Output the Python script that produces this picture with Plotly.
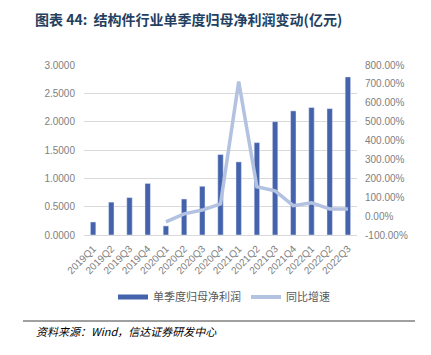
import plotly.graph_objects as go

quarters = ["2019Q1", "2019Q2", "2019Q3", "2019Q4", "2020Q1", "2020Q2", "2020Q3", "2020Q4",
            "2021Q1", "2021Q2", "2021Q3", "2021Q4", "2022Q1", "2022Q2", "2022Q3"]
profit = [0.23, 0.58, 0.66, 0.91, 0.16, 0.635, 0.86, 1.42,
          1.29, 1.63, 2.00, 2.19, 2.25, 2.23, 2.79]
yoy = [None, None, None, None, -30, 12, 32, 64,
       712, 155, 134, 55, 71, 38, 38]
left_ticks = [0, 0.5, 1.0, 1.5, 2.0, 2.5, 3.0]
right_ticks = [-100, 0, 100, 200, 300, 400, 500, 600, 700, 800]

BAR = "#4563AC"
LINE = "#B4C2E2"
TICK = dict(family="Liberation Sans, Arial", size=10, color="#808080")

fig = go.Figure()
fig.add_trace(go.Bar(x=quarters, y=profit, marker_color=BAR, width=0.3,
                     showlegend=False, name="单季度归母净利润"))
fig.add_trace(go.Scatter(x=quarters, y=yoy, mode="lines", yaxis="y2",
                         line=dict(color=LINE, width=3.5), showlegend=False,
                         name="同比增速"))
# legend proxies
fig.add_trace(go.Scatter(x=[None], y=[None], mode="lines", name="单季度归母净利润",
                         line=dict(color=BAR, width=5)))
fig.add_trace(go.Scatter(x=[None], y=[None], mode="lines", name="同比增速",
                         line=dict(color=LINE, width=4)))

# page body has an 8px default margin, so the figure is placed at (8, 8)
fig.update_layout(
    width=423, height=347,
    margin=dict(l=76, r=74, t=57, b=120, autoexpand=False),
    paper_bgcolor="white", plot_bgcolor="white",
    xaxis=dict(type="category", tickangle=-45, tickfont=TICK, showgrid=False,
               showline=True, linecolor="#d9d9d9", ticks="outside", ticklen=3,
               tickcolor="white", automargin=False),
    yaxis=dict(range=[0, 3], tickvals=left_ticks,
               ticktext=[f"{v:.4f}" for v in left_ticks], tickfont=TICK,
               showgrid=True, gridcolor="#d9d9d9", gridwidth=1, zeroline=False,
               ticklen=6, ticks="outside", tickcolor="white", automargin=False),
    yaxis2=dict(range=[-100, 800], tickvals=right_ticks,
                ticktext=[f"{v:.2f}%" for v in right_ticks], tickfont=TICK,
                overlaying="y", side="right", showgrid=False, zeroline=False,
                ticklen=5, ticks="outside", tickcolor="white", automargin=False),
    legend=dict(orientation="h", x=(113 - 84) / 273, xanchor="left",
                y=-(297 - 235) / 170, yanchor="middle",
                font=dict(family="Noto Sans CJK SC", size=11, color="#595959"),
                itemwidth=30, tracegroupgap=0),
    showlegend=True,
)

fig.add_annotation(text="<b>图表 44:  结构件行业单季度归母净利润变动(亿元)</b>",
                   xref="paper", yref="paper", x=-(84 - 34) / 273, y=1 + (65 - 8) / 170,
                   xanchor="left", yanchor="top", showarrow=False, borderpad=0,
                   font=dict(family="Noto Sans CJK SC", size=14, color="#243F60"))
fig.add_annotation(text="<i>资料来源：Wind，信达证券研发中心</i>",
                   xref="paper", yref="paper", x=-(84 - 34) / 273, y=-(331 - 235) / 170,
                   xanchor="left", yanchor="middle", showarrow=False,
                   font=dict(family="Noto Sans CJK SC", size=11, color="#000000"))
fig.add_shape(type="line", xref="paper", yref="paper",
              x0=-(84 - 23) / 273, x1=(415 - 84) / 273,
              y0=-(321 - 235) / 170, y1=-(321 - 235) / 170,
              line=dict(color="#404040", width=1))

fig.write_html("out.html")
